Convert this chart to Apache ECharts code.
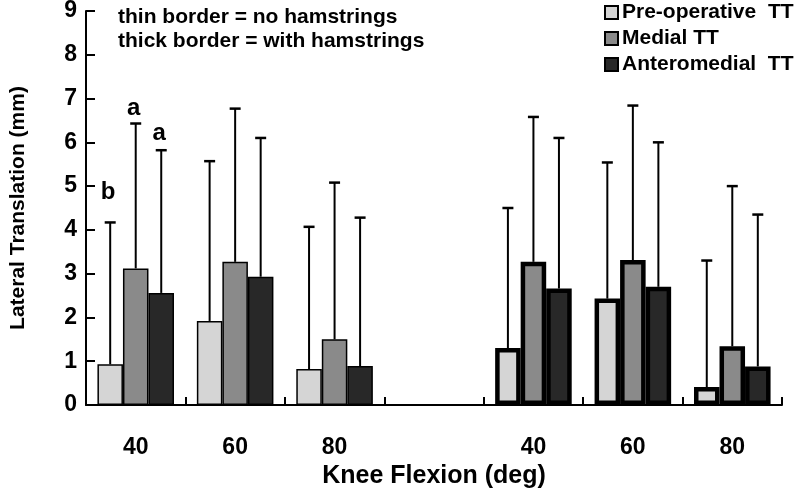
<!DOCTYPE html>
<html>
<head>
<meta charset="utf-8">
<script src="https://cdn.jsdelivr.net/npm/echarts@6/dist/echarts.min.js"></script>
<style>
html,body{margin:0;padding:0;background:#fff;}
#chart{width:800px;height:491px;}
</style>
</head>
<body>
<div id="chart"></div>
<script>
// ---- data ----
const categories = ['40', '60', '80', '', '40', '60', '80'];
const seriesNames = ['Pre-operative  TT', 'Medial TT', 'Anteromedial  TT'];
const preMean  = [0.93, 1.92, 0.82, null, 1.30, 2.43, 0.41];
const preUpper = [4.17, 5.57, 4.07, null, 4.50, 5.54, 3.30];
const medMean  = [3.12, 3.27, 1.50, null, 3.27, 3.31, 1.34];
const medUpper = [6.43, 6.77, 5.08, null, 6.58, 6.84, 5.00];
const antMean  = [2.56, 2.93, 0.89, null, 2.66, 2.70, 0.88];
const antUpper = [5.82, 6.10, 4.28, null, 6.10, 6.00, 4.35];
const withHamstrings = [false, false, false, null, true, true, true];
const yTicks = [0, 1, 2, 3, 4, 5, 6, 7, 8, 9];
// letters: [category index, series index, y value of letter centre, text]
const letters = [[0, 0, 4.86, 'b'], [0, 1, 6.78, 'a'], [0, 2, 6.2, 'a']];
const notes = ['thin border = no hamstrings', 'thick border = with hamstrings'];

const FONT = '"Liberation Sans", Arial, sans-serif';
const colors = ['#d5d5d5', '#8a8a8a', '#282828'];
const means = [preMean, medMean, antMean];
const uppers = [preUpper, medUpper, antUpper];
const GAP = 0.23;

function barData(arr) {
  return arr.map((v, i) => v == null ? '-' : {
    value: v,
    itemStyle: { borderWidth: withHamstrings[i] ? 4.5 : 1.5 }
  });
}

function barCenter(api, cat, s) {
  const bandW = api.size([1, 0])[0];
  const base = api.coord([cat, 0]);
  const barW = bandW * (1 - GAP) / 3;
  return base[0] - bandW * (1 - GAP) / 2 + (s + 0.5) * barW;
}

const errData = [];
for (let s = 0; s < 3; s++) {
  for (let i = 0; i < categories.length; i++) {
    if (means[s][i] != null) errData.push([i, s, means[s][i], uppers[s][i]]);
  }
}

const series = seriesNames.map((n, s) => ({
  name: n,
  type: 'bar',
  z: 3,
  barGap: '0%',
  barCategoryGap: (GAP * 100) + '%',
  itemStyle: { color: colors[s], borderColor: '#000', borderWidth: 1.5 },
  data: barData(means[s])
}));

series.push({
  type: 'custom',
  z: 2,
  silent: true,
  data: errData,
  renderItem: function (params, api) {
    const cat = api.value(0), s = api.value(1);
    const cx = barCenter(api, cat, s);
    const yMean = api.coord([cat, api.value(2)])[1];
    const yTop = api.coord([cat, api.value(3)])[1];
    return {
      type: 'group',
      children: [
        { type: 'line', shape: { x1: cx, y1: yMean, x2: cx, y2: yTop }, style: { stroke: '#000', lineWidth: 2 } },
        { type: 'line', shape: { x1: cx - 5.5, y1: yTop, x2: cx + 5.5, y2: yTop }, style: { stroke: '#000', lineWidth: 2.5 } }
      ]
    };
  }
});

series.push({
  type: 'custom',
  z: 4,
  silent: true,
  data: letters,
  renderItem: function (params, api) {
    const cat = api.value(0), s = api.value(1);
    const cx = barCenter(api, cat, s) - 2;
    const y = api.coord([cat, api.value(2)])[1];
    return {
      type: 'text',
      style: { x: cx, y: y, text: letters[params.dataIndex][3], align: 'center', verticalAlign: 'middle',
        fill: '#000', font: 'bold 24px ' + FONT }
    };
  }
});

const chart = echarts.init(document.getElementById('chart'), null, { renderer: 'canvas' });
chart.setOption({
  backgroundColor: '#fff',
  animation: false,
  grid: { left: 86, right: 18, top: 11, bottom: 86, containLabel: false, outerBoundsMode: 'none' },
  legend: {
    orient: 'vertical',
    left: 604,
    top: 2,
    data: seriesNames,
    icon: 'rect',
    itemWidth: 13,
    itemHeight: 13,
    itemGap: 5,
    padding: 0,
    textStyle: { fontFamily: FONT, fontWeight: 'bold', fontSize: 21, color: '#000', lineHeight: 19, padding: [0, 0, 0, -1] }
  },
  graphic: [{
    type: 'text',
    left: 118,
    top: 5,
    style: { text: notes.join('\n'), font: 'bold 21px ' + FONT, lineHeight: 24, fill: '#000' }
  }],
  xAxis: {
    type: 'category',
    data: categories,
    name: 'Knee Flexion (deg)',
    nameLocation: 'middle',
    nameGap: 52,
    nameTextStyle: { fontFamily: FONT, fontWeight: 'bold', fontSize: 25, color: '#000' },
    axisLine: { lineStyle: { color: '#000', width: 2 } },
    axisTick: { show: true, inside: true, length: 8, lineStyle: { color: '#000', width: 2 } },
    axisLabel: { fontFamily: FONT, fontWeight: 'bold', fontSize: 23, color: '#000', margin: 31 },
    splitLine: { show: false }
  },
  yAxis: {
    type: 'value',
    min: 0,
    max: 9,
    interval: 1,
    name: 'Lateral Translation (mm)',
    nameLocation: 'middle',
    nameGap: 57,
    nameTextStyle: { fontFamily: FONT, fontWeight: 'bold', fontSize: 21, color: '#000' },
    axisLine: { show: true, lineStyle: { color: '#000', width: 2 } },
    axisTick: { show: true, inside: true, length: 9, lineStyle: { color: '#000', width: 2 } },
    axisLabel: { fontFamily: FONT, fontWeight: 'bold', fontSize: 23, color: '#000', margin: 9,
      formatter: v => yTicks.indexOf(v) >= 0 ? String(v) : '' },
    splitLine: { show: false }
  },
  series: series
});
</script>
</body>
</html>
